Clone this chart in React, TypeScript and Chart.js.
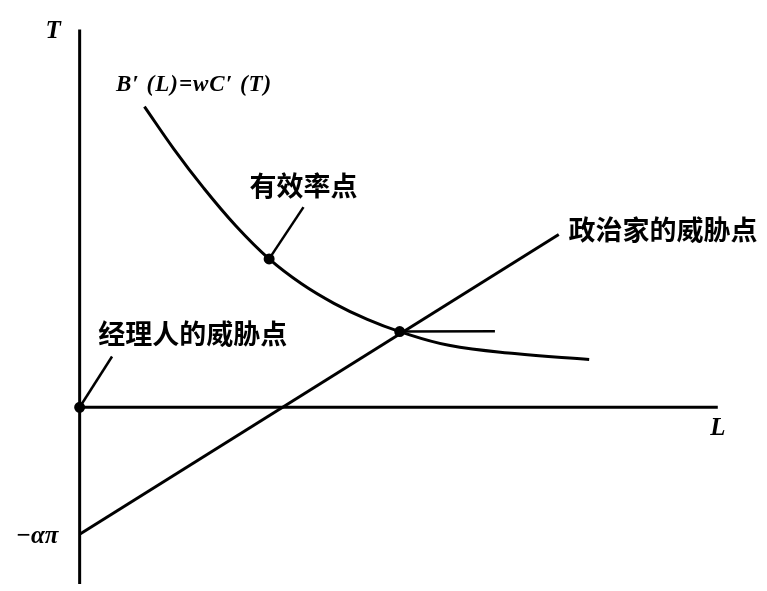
import React, { useEffect, useRef } from "react";
import { Chart, registerables } from "chart.js";

Chart.register(...registerables);

// Efficiency curve B'(L) = wC'(T)
const curveL = [1.32, 1.92, 2.52, 3.18, 3.86, 4.52, 5.18, 5.86, 6.52, 7.52, 8.86, 10.38];
const curveT = [6.16, 5.29, 4.5, 3.72, 3.04, 2.53, 2.13, 1.8, 1.55, 1.27, 1.1, 0.98];

// Politician's threat line (from -απ)
const lineL = [0, 9.76];
const lineT = [-2.6, 3.54];

// Short horizontal segment at the intersection
const segL = [6.52, 8.46];
const segT = [1.55, 1.56];

// Efficiency point and its pointer
const effL = [3.86, 4.56];
const effT = [3.04, 4.1];

// Manager's threat point (origin) and its pointer
const mgrL = [0, 0.66];
const mgrT = [0, 1.04];

// Axes
const axisTL = [0, 0];
const axisTT = [-3.62, 7.74];
const axisLL = [0, 13];
const axisLT = [0, 0];

// Text annotations
const labelTexts = ["T", "B′ (L)=wC′ (T)", "有效率点", "政治家的威胁点", "经理人的威胁点", "L", "−απ"];
const labelL = [-0.54, 0.74, 3.46, 9.96, 0.38, 13.0, -1.3];
const labelT = [7.7, 6.6, 4.54, 3.64, 1.5, -0.44, -2.64];
const labelKind = ["var", "formula", "cjk", "cjk", "cjk", "var", "var"];
const labelAlign = ["center", "left", "left", "left", "left", "center", "left"];

const pts = (xs: number[], ys: number[]) => xs.map((x, i) => ({ x, y: ys[i] }));

export default function App() {
  const ref = useRef<HTMLCanvasElement | null>(null);
  useEffect(() => {
    document.body.style.margin = "0";
    document.body.style.overflow = "hidden";
    document.documentElement.style.overflow = "hidden";
    if (!ref.current) return;
    const labelPlugin = {
      id: "labels",
      afterDatasetsDraw(chart: any) {
        const { ctx, scales } = chart;
        ctx.save();
        ctx.fillStyle = "#000";
        ctx.textBaseline = "middle";
        labelTexts.forEach((t, i) => {
          const px = scales.x.getPixelForValue(labelL[i]);
          const py = scales.y.getPixelForValue(labelT[i]);
          ctx.letterSpacing = "0px";
          if (labelKind[i] === "cjk") {
            ctx.font = "bold 27px 'Noto Sans CJK SC'";
          } else if (labelKind[i] === "formula") {
            ctx.font = "italic bold 23px 'Liberation Serif'";
            ctx.letterSpacing = "1px";
          } else {
            ctx.font = "italic bold 25px 'Liberation Serif'";
          }
          ctx.textAlign = labelAlign[i] as CanvasTextAlign;
          ctx.fillText(t, px, py);
        });
        ctx.restore();
      },
    };
    const base = { borderColor: "#000", pointRadius: 0, borderWidth: 3, fill: false, showLine: true };
    const chart = new Chart(ref.current, {
      type: "scatter",
      data: {
        datasets: [
          { ...base, data: pts(axisTL, axisTT), borderWidth: 3 },
          { ...base, data: pts(axisLL, axisLT), borderWidth: 3 },
          { ...base, data: pts(curveL, curveT), tension: 0.4 },
          { ...base, data: pts(lineL, lineT) },
          { ...base, data: pts(segL, segT), borderWidth: 2.5 },
          { ...base, data: pts(effL, effT), borderWidth: 2.5 },
          { ...base, data: pts(mgrL, mgrT), borderWidth: 2.5 },
          {
            ...base,
            showLine: false,
            data: [
              { x: effL[0], y: effT[0] },
              { x: mgrL[0], y: mgrT[0] },
              { x: segL[0], y: segT[0] },
            ],
            pointRadius: 4,
            pointBackgroundColor: "#000",
            pointBorderColor: "#000",
          },
        ] as any,
      },
      options: {
        animation: false,
        responsive: false,
        maintainAspectRatio: false,
        devicePixelRatio: 1,
        layout: { padding: 0 },
        plugins: { legend: { display: false }, tooltip: { enabled: false } },
        scales: {
          x: { type: "linear", min: -1.48, max: 13.86, display: false },
          y: { type: "linear", min: -3.62, max: 8.2, display: false },
        },
        elements: { line: { borderCapStyle: "butt" } },
      },
      plugins: [labelPlugin],
    });
    return () => chart.destroy();
  }, []);
  return (
    <div style={{ width: 767, height: 591, background: "#fff", overflow: "hidden" }}>
      <canvas ref={ref} width={767} height={591} style={{ display: "block", width: 767, height: 591 }} />
    </div>
  );
}
